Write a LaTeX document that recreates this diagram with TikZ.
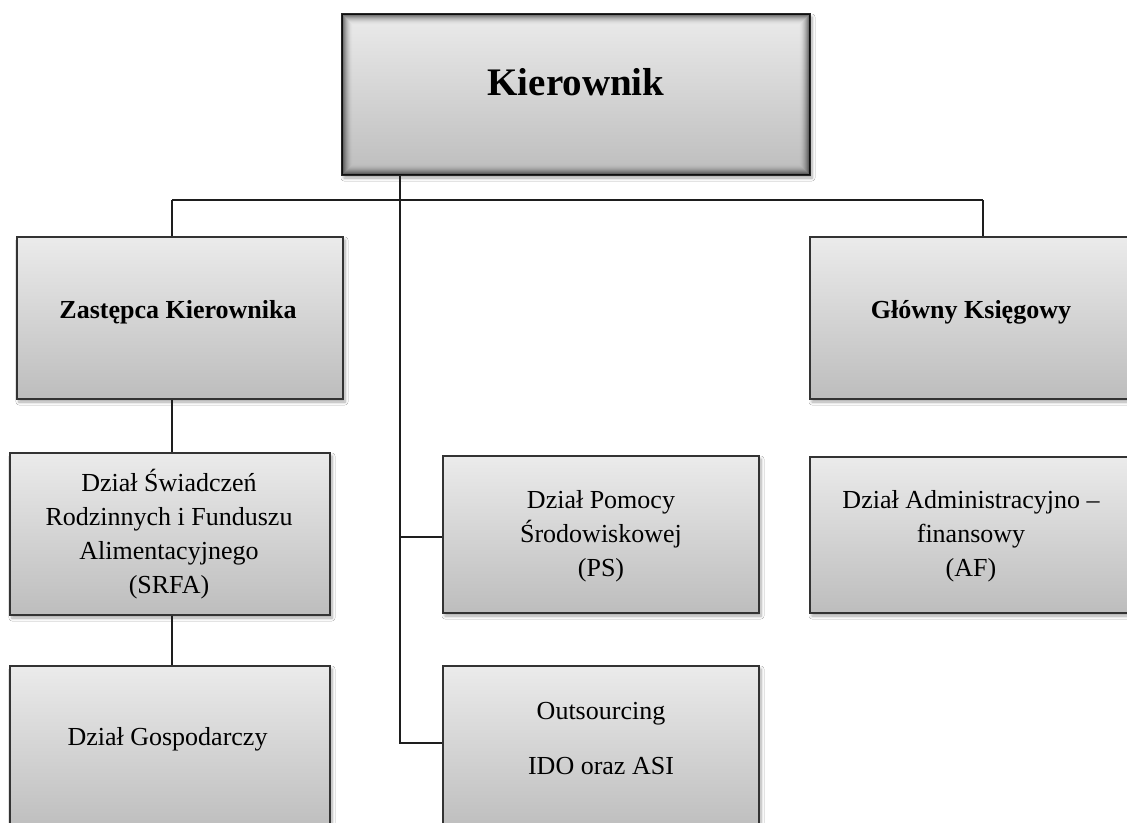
\documentclass[tikz,border=0pt]{standalone}
\usepackage{fontspec}
\setmainfont{Liberation Serif}
\usetikzlibrary{shadows.blur}
\definecolor{boxline}{HTML}{333333}
\definecolor{linkcol}{HTML}{1E1E1E}
\definecolor{boxtop}{HTML}{EBEBEB}
\definecolor{boxbot}{HTML}{BDBDBD}
\tikzset{
  orgbox/.style={rectangle, draw=boxline, line width=1.5bp, inner sep=0pt,
    top color=boxtop, bottom color=boxbot,
    blur shadow={shadow xshift=2bp, shadow yshift=-3bp, shadow blur radius=3bp,
      shadow blur steps=6, shadow opacity=35}},
  link/.style={draw=linkcol, line width=1.3bp},
  lbl/.style={font=\fontsize{26bp}{34bp}\selectfont, align=center, inner sep=0pt},
  blbl/.style={font=\fontsize{26bp}{34bp}\selectfont\bfseries, inner sep=0pt},
}
\begin{document}
\begin{tikzpicture}[x=1bp,y=1bp]
\useasboundingbox (0,0) rectangle (1127,-823);
\fill[white] (0,0) rectangle (1127,-823);

% junction coordinates
\coordinate (trunk) at (400,-200);
\coordinate (lj) at (172,-200);
\coordinate (rj) at (983,-200);
\coordinate (psj) at (400,-537);
\coordinate (outj) at (400,-743);

% boxes
\node[orgbox, draw=black!85, minimum width=468bp, minimum height=161bp] (kier) at (576,-94.5) {};
\node[orgbox, minimum width=326bp, minimum height=162bp] (zast) at (180,-318) {};
\node[orgbox, minimum width=322bp, minimum height=162bp] (glow) at (971,-318) {};
\node[orgbox, minimum width=320bp, minimum height=162bp] (srfa) at (170,-534) {};
\node[orgbox, minimum width=316bp, minimum height=157bp] (ps) at (601,-534.5) {};
\node[orgbox, minimum width=322bp, minimum height=156bp] (af) at (971,-535) {};
\node[orgbox, minimum width=320bp, minimum height=166bp] (gosp) at (170,-749) {};
\node[orgbox, minimum width=316bp, minimum height=166bp] (outs) at (601,-749) {};

% inner shadow of the top box
\foreach \i [evaluate=\i as \op using {0.6*(1-\i/11)^2}] in {0,...,10}
  \draw[black, opacity=\op, line width=1.1bp]
    ([shift={(\i*1.0+1.3,\i*1.0+1.3)}]kier.south west) rectangle
    ([shift={(-\i*1.0-1.3,-\i*1.0-1.3)}]kier.north east);

% connectors
\draw[link] (kier.south -| trunk) -- (outj) -- (outj -| outs.west);
\draw[link] (lj) -- (rj);
\draw[link] (lj) -- (lj |- zast.north);
\draw[link] (rj) -- (rj |- glow.north);
\draw[link] (zast.south -| lj) -- (srfa.north -| lj);
\draw[link] (srfa.south -| lj) -- (gosp.north -| lj);
\draw[link] (psj) -- (psj -| ps.west);

% texts
\node[blbl, font=\fontsize{39bp}{41bp}\selectfont\bfseries, anchor=base] (tkier) at (576,-95) {Kierownik};
\node[blbl, anchor=base] (tzast) at (178,-318) {Zastępca Kierownika};
\node[blbl, anchor=base] (tglow) at (971,-318) {Główny Księgowy};
\node[lbl] (tsrfa) at (169,-534) {Dział Świadczeń\\Rodzinnych i Funduszu\\Alimentacyjnego\\(SRFA)};
\node[lbl] (tps) at (601,-536) {Dział Pomocy\\Środowiskowej\\(PS)};
\node[lbl] (taf) at (971,-536) {Dział Administracyjno –\\finansowy\\(AF)};
\node[lbl, anchor=base] (tgosp) at (167.5,-745) {Dział Gospodarczy};
\node[lbl] (touts) at (601,-739) {Outsourcing\\[21bp]IDO oraz ASI};
\end{tikzpicture}
\end{document}
